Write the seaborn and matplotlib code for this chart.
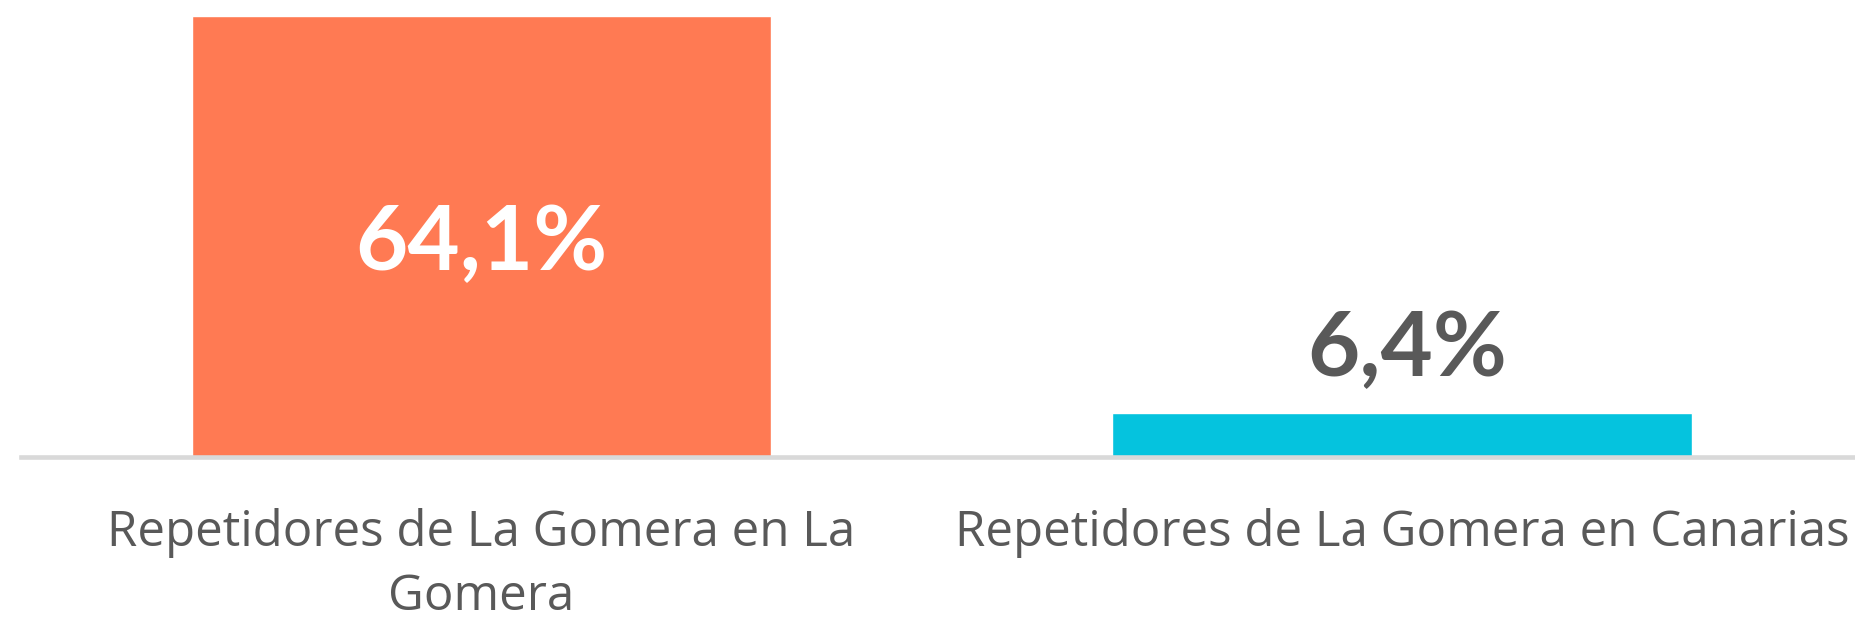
import matplotlib
matplotlib.use('Agg')
import matplotlib.pyplot as plt
import seaborn as sns
import pandas as pd

categories = ['Repetidores de La Gomera en La\nGomera', 'Repetidores de La Gomera en Canarias']
values = [64.1, 6.4]
value_labels = ['64,1%', '6,4%']
bar_colors = ['#FF7A53', '#05C3DE']

sns.set_theme(style='white')
plt.rcParams['font.family'] = ['Lato', 'DejaVu Sans']

df = pd.DataFrame({'cat': categories, 'val': values})

fig = plt.figure(figsize=(18.55, 6.27), dpi=100)
ax = fig.add_axes([21 / 1855, (627 - 457) / 627, 1 - 21 / 1855, 457 / 627])

sns.barplot(data=df, x='cat', y='val', hue='cat', palette=bar_colors,
            width=0.629, legend=False, ax=ax, saturation=1)

ax.set_xlim(-0.5, 1.492)
ax.set_ylim(0, 66.4)

for s in ['top', 'right', 'left']:
    ax.spines[s].set_visible(False)
ax.spines['bottom'].set_color('#D9D9D9')
ax.spines['bottom'].set_linewidth(3.3)

ax.set_yticks([])
ax.set_xlabel('')
ax.set_ylabel('')
ax.tick_params(axis='x', length=0, pad=37, labelsize=35.5, labelcolor='#595959')
for lbl in ax.get_xticklabels():
    lbl.set_family(['Open Sans', 'DejaVu Sans'])
    lbl.set_linespacing(1.38)

# data labels: first inside the bar, second above it
ax.text(0, 31.0, value_labels[0], ha='center', va='center',
        color='white', fontsize=65, fontweight='bold')
ax.text(1.006, 15.5, value_labels[1], ha='center', va='center',
        color='#595959', fontsize=65, fontweight='bold')

fig.savefig('out.png', dpi=100)
